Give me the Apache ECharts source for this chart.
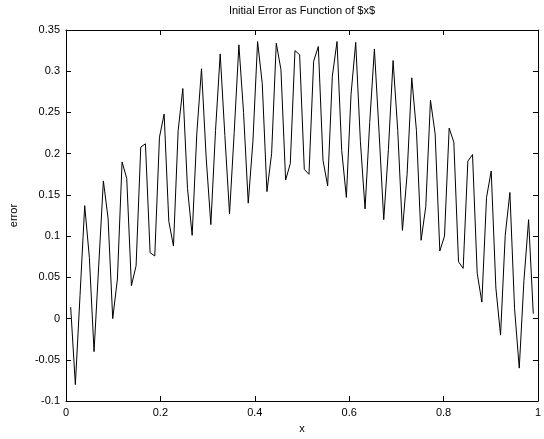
<!DOCTYPE html>
<html>
<head>
    <meta charset="UTF-8">
    <title>Initial Error</title>
    <script src="https://cdn.jsdelivr.net/npm/echarts@6/dist/echarts.min.js"></script>
    <style>
        html, body { margin: 0; padding: 0; background: #fff; }
    </style>
</head>
<body>
    <div id="chart" style="width:544px; height:439px;"></div>
    <script>
        // error values, samples at x = i/101, i = 1..100
        var errorVals = [
            0.014, -0.080, 0.028, 0.137, 0.074, -0.040, 0.064, 0.167, 0.122, 0.000,
            0.048, 0.190, 0.170, 0.040, 0.064, 0.208, 0.212, 0.080, 0.076, 0.220,
            0.248, 0.118, 0.088, 0.228, 0.279, 0.158, 0.101, 0.225, 0.303, 0.195,
            0.114, 0.228, 0.321, 0.222, 0.127, 0.226, 0.332, 0.250, 0.140, 0.215,
            0.336, 0.285, 0.154, 0.200, 0.334, 0.302, 0.168, 0.188, 0.325, 0.320,
            0.181, 0.175, 0.312, 0.330, 0.192, 0.161, 0.294, 0.336, 0.204, 0.147,
            0.272, 0.335, 0.215, 0.133, 0.238, 0.327, 0.226, 0.120, 0.205, 0.313,
            0.228, 0.107, 0.175, 0.292, 0.228, 0.095, 0.136, 0.265, 0.224, 0.082,
            0.100, 0.231, 0.214, 0.069, 0.061, 0.191, 0.199, 0.055, 0.020, 0.147,
            0.179, 0.037, -0.020, 0.101, 0.153, 0.012, -0.060, 0.046, 0.120, 0.006
        ];
        var nPts = 101;
        var xs = errorVals.map(function (v, k) { return (k + 1) / nPts; });

        var titleText = 'Initial Error as Function of $x$';
        var xName = 'x';
        var yName = 'error';

        var font = 'Liberation Sans, Arial, sans-serif';
        var dom = document.getElementById('chart');
        var myChart = echarts.init(dom, null, { renderer: 'canvas' });

        var tickStyle = { show: true, inside: true, length: 5, lineStyle: { color: '#000', width: 1 } };
        var lineStyle = { show: true, onZero: false, lineStyle: { color: '#000', width: 1 } };

        var option = {
            animation: false,
            backgroundColor: '#fff',
            grid: { left: 66, right: 2, top: 30, bottom: 34, containLabel: false },
            xAxis: [{
                type: 'value', min: 0, max: 1, interval: 0.2, position: 'bottom',
                axisLine: lineStyle, axisTick: tickStyle, splitLine: { show: false },
                axisLabel: { color: '#000', fontSize: 11, fontFamily: font, margin: 6 },
                name: xName, nameLocation: 'middle', nameGap: 18,
                nameTextStyle: { color: '#000', fontSize: 11, fontFamily: font }
            }, {
                type: 'value', min: 0, max: 1, interval: 0.2, position: 'top',
                axisLine: lineStyle, axisTick: tickStyle, splitLine: { show: false },
                axisLabel: { show: false },
                name: titleText, nameLocation: 'middle', nameGap: 14,
                nameTextStyle: { color: '#000', fontSize: 11, fontFamily: font }
            }],
            yAxis: [{
                type: 'value', min: -0.1, max: 0.35, interval: 0.05, position: 'left',
                axisLine: lineStyle, axisTick: tickStyle, splitLine: { show: false },
                axisLabel: { color: '#000', fontSize: 11, fontFamily: font, margin: 6 },
                name: yName, nameLocation: 'middle', nameGap: 47,
                nameTextStyle: { color: '#000', fontSize: 11, fontFamily: font }
            }, {
                type: 'value', min: -0.1, max: 0.35, interval: 0.05, position: 'right',
                axisLine: lineStyle, axisTick: tickStyle, splitLine: { show: false },
                axisLabel: { show: false }
            }],
            series: [{
                type: 'line',
                xAxisIndex: 0,
                yAxisIndex: 0,
                data: xs.map(function (x, k) { return [x, errorVals[k]]; }),
                showSymbol: false,
                lineStyle: { color: '#000', width: 1 },
                silent: true
            }]
        };

        myChart.setOption(option);
    </script>
</body>
</html>
